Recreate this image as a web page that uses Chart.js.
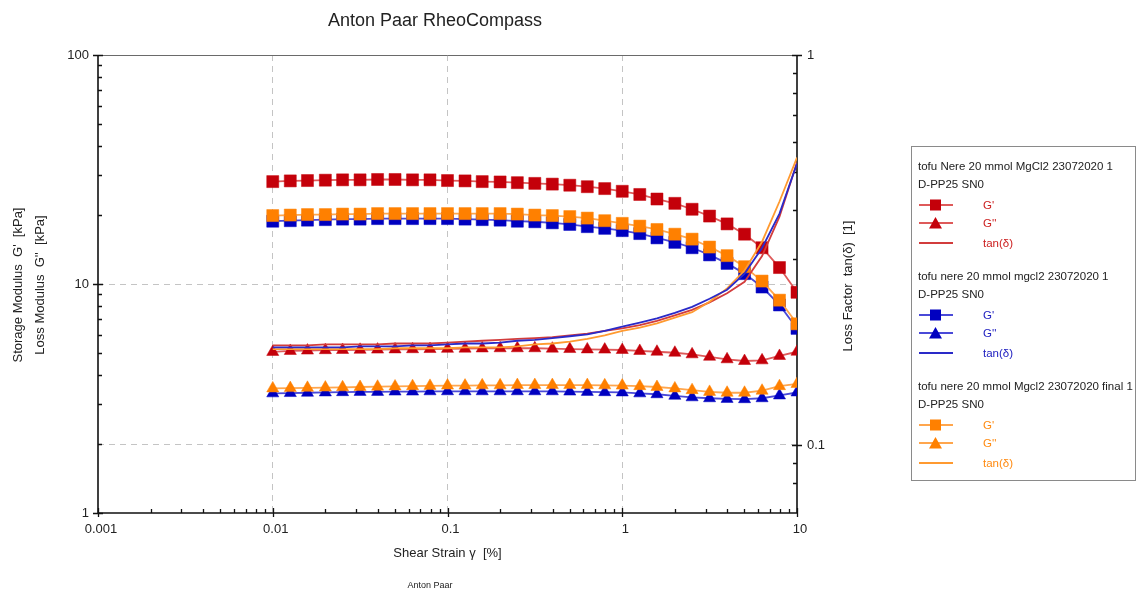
<!DOCTYPE html>
<html>
<head>
<meta charset="utf-8">
<script src="https://cdn.jsdelivr.net/npm/chart.js@4/dist/chart.umd.min.js"></script>
<style>
  body { margin: 0; background: #fff; font-family: "Liberation Sans", Arial, sans-serif; }
  #wrap { position: relative; width: 1140px; height: 592px; }
  #legend { position: absolute; left: 911px; top: 146px; width: 225px; height: 335px;
            border: 1px solid #8a8a8a; box-sizing: border-box; }
  .lg { position: absolute; font-size: 11.5px; line-height: 14px; white-space: nowrap; color: #222; }
</style>
</head>
<body>
<div id="wrap">
  <canvas id="chart" width="1140" height="592"></canvas>
  <div id="legend"></div>
</div>
<script>
// Данные
const strain = [0.01, 0.0126, 0.0158, 0.02, 0.0251, 0.0316, 0.0398, 0.0501, 0.0631, 0.0794,
                0.1, 0.126, 0.158, 0.2, 0.251, 0.316, 0.398, 0.501, 0.631, 0.794,
                1, 1.26, 1.58, 2, 2.51, 3.16, 3.98, 5.01, 6.31, 7.94, 10];

const redG1 = [28.0, 28.2, 28.3, 28.4, 28.5, 28.5, 28.6, 28.6, 28.5, 28.5, 28.3, 28.2, 28.0, 27.9, 27.7, 27.5,
               27.3, 27.0, 26.6, 26.1, 25.4, 24.6, 23.5, 22.5, 21.2, 19.8, 18.3, 16.5, 14.4, 11.8, 9.2];
const redG2 = [5.05, 5.10, 5.12, 5.14, 5.15, 5.16, 5.17, 5.18, 5.19, 5.20, 5.21, 5.22, 5.23, 5.24, 5.24, 5.24,
               5.22, 5.20, 5.18, 5.17, 5.15, 5.10, 5.06, 5.01, 4.93, 4.81, 4.69, 4.61, 4.64, 4.85, 5.06];
const redTan = [0.180, 0.180, 0.180, 0.181, 0.181, 0.181, 0.181, 0.182, 0.182, 0.182, 0.183, 0.184, 0.185, 0.186,
                0.187, 0.188, 0.189, 0.191, 0.193, 0.196, 0.199, 0.203, 0.208, 0.215, 0.222, 0.232, 0.245, 0.262,
                0.305, 0.385, 0.530];

const blueG1 = [18.8, 18.9, 19.0, 19.1, 19.2, 19.2, 19.3, 19.3, 19.3, 19.3, 19.3, 19.2, 19.1, 19.0, 18.8, 18.7,
                18.5, 18.2, 17.8, 17.5, 17.1, 16.6, 15.9, 15.2, 14.4, 13.4, 12.3, 11.1, 9.7, 8.1, 6.4];
const blueG2 = [3.33, 3.34, 3.35, 3.36, 3.37, 3.38, 3.38, 3.39, 3.39, 3.40, 3.40, 3.40, 3.40, 3.40, 3.40, 3.40,
                3.40, 3.39, 3.38, 3.37, 3.36, 3.33, 3.30, 3.25, 3.20, 3.17, 3.15, 3.14, 3.17, 3.26, 3.36];
const blueTan = [0.178, 0.178, 0.178, 0.178, 0.178, 0.179, 0.179, 0.179, 0.180, 0.180, 0.181, 0.182, 0.182, 0.183,
                 0.185, 0.186, 0.188, 0.190, 0.192, 0.196, 0.201, 0.206, 0.211, 0.218, 0.226, 0.237, 0.250, 0.275,
                 0.320, 0.392, 0.527];

const orangeG1 = [19.9, 20.0, 20.1, 20.1, 20.2, 20.2, 20.3, 20.3, 20.3, 20.3, 20.3, 20.3, 20.3, 20.3, 20.2, 20.0,
                  19.9, 19.7, 19.4, 18.9, 18.4, 17.9, 17.3, 16.5, 15.7, 14.5, 13.3, 11.9, 10.3, 8.5, 6.7];
const orangeG2 = [3.50, 3.51, 3.52, 3.53, 3.54, 3.55, 3.56, 3.57, 3.58, 3.59, 3.60, 3.60, 3.61, 3.61, 3.62, 3.62,
                  3.62, 3.62, 3.62, 3.61, 3.60, 3.58, 3.55, 3.50, 3.44, 3.38, 3.35, 3.35, 3.42, 3.58, 3.66];
const orangeTan = [0.176, 0.176, 0.176, 0.176, 0.176, 0.176, 0.176, 0.177, 0.177, 0.177, 0.177, 0.178, 0.178, 0.178,
                   0.179, 0.181, 0.182, 0.184, 0.187, 0.191, 0.196, 0.200, 0.205, 0.212, 0.219, 0.233, 0.252, 0.280,
                   0.332, 0.421, 0.546];

// Подписи
const xTickLabels = ['0.001', '0.01', '0.1', '1', '10'];
const yTickLabels = ['1', '10', '100'];
const y2TickLabels = ['0.1', '1'];
const xGridValues = [0.01, 0.1, 1];
const yGridValues = [10];
const y2GridValues = [0.1];

const sampleNames = ['tofu Nere 20 mmol MgCl2 23072020 1',
                     'tofu nere 20 mmol mgcl2 23072020 1',
                     'tofu nere 20 mmol Mgcl2 23072020 final  1'];
const sampleSub = 'D-PP25 SN0';
const seriesLabels = ["G'", "G''", 'tan(δ)'];

// Цвета: маркер, линия, tan
const colors = [
  { mark: '#c4000a', line: '#de5a5a', tan: '#d23c3c', text: '#cc2020' },
  { mark: '#0000c0', line: '#4a4ad8', tan: '#2a2ac8', text: '#2020c0' },
  { mark: '#ff8000', line: '#ffa64d', tan: '#ff9a30', text: '#ff8a10' }
];

const FONT = '"Liberation Sans", Arial, sans-serif';

function pts(arr) {
  return strain.map((x, i) => ({ x: x, y: arr[i] }));
}

function modDataset(arr, c, style, order) {
  return {
    data: pts(arr),
    yAxisID: 'y',
    borderColor: c.line,
    borderWidth: 1.8,
    pointStyle: style,
    pointRadius: style === 'rect' ? 8.5 : 7,
    pointBackgroundColor: c.mark,
    pointBorderColor: c.mark,
    pointBorderWidth: 0.5,
    tension: 0,
    order: order
  };
}

function tanDataset(arr, c, order) {
  return {
    data: pts(arr),
    yAxisID: 'y2',
    borderColor: c.tan,
    borderWidth: 1.8,
    pointRadius: 0,
    tension: 0,
    order: order
  };
}

const seriesG1 = [redG1, blueG1, orangeG1];
const seriesG2 = [redG2, blueG2, orangeG2];
const seriesTan = [redTan, blueTan, orangeTan];

const datasets = [
  modDataset(blueG2, colors[1], 'triangle', 9),
  modDataset(blueG1, colors[1], 'rect', 8),
  modDataset(orangeG2, colors[2], 'triangle', 7),
  modDataset(orangeG1, colors[2], 'rect', 6),
  modDataset(redG2, colors[0], 'triangle', 5),
  modDataset(redG1, colors[0], 'rect', 4),
  tanDataset(redTan, colors[0], 3),
  tanDataset(orangeTan, colors[2], 2),
  tanDataset(blueTan, colors[1], 1)
];

function near(v, list) {
  return list.some(g => Math.abs(v - g) / g < 1e-6);
}
function isNiceTick(v) {
  const e = Math.floor(Math.log10(v) + 1e-9);
  const m = v / Math.pow(10, e);
  return Math.abs(m - Math.round(m)) < 1e-6;
}
function isDecade(v) {
  const l = Math.log10(v);
  return Math.abs(l - Math.round(l)) < 1e-6;
}
function labelCb(list) {
  return function (v) {
    const s = String(Number(v.toPrecision(6)));
    return list.includes(s) ? s : '';
  };
}
function gridColor(list) {
  return c => (c.tick && near(c.tick.value, list)) ? '#c4c4c4' : 'rgba(0,0,0,0)';
}

// Оси, засечки и подписи
const decor = {
  id: 'decor',
  beforeDatasetsDraw(chart) {
    const { ctx, chartArea: a, scales } = chart;
    ctx.save();
    ctx.strokeStyle = '#6a6a6a';
    ctx.lineWidth = 1;
    ctx.beginPath();
    ctx.moveTo(a.left, a.top + 0.5);
    ctx.lineTo(a.right, a.top + 0.5);
    ctx.stroke();

    ctx.strokeStyle = '#111';
    ctx.lineWidth = 1.6;
    ctx.beginPath();
    ctx.moveTo(a.left, a.top);
    ctx.lineTo(a.left, a.bottom);
    ctx.lineTo(a.right, a.bottom);
    ctx.lineTo(a.right, a.top);
    ctx.stroke();

    ctx.lineWidth = 1.3;
    ctx.beginPath();
    scales.x.ticks.forEach(t => {
      if (!isNiceTick(t.value)) return;
      const p = Math.round(scales.x.getPixelForValue(t.value)) + 0.5;
      const major = isDecade(t.value);
      ctx.moveTo(p, a.bottom + (major ? 4 : 0));
      ctx.lineTo(p, a.bottom - (major ? 5 : 4));
    });
    scales.y.ticks.forEach(t => {
      if (!isNiceTick(t.value)) return;
      const p = Math.round(scales.y.getPixelForValue(t.value)) + 0.5;
      const major = isDecade(t.value);
      ctx.moveTo(a.left - (major ? 5 : 0), p);
      ctx.lineTo(a.left + (major ? 5 : 4), p);
    });
    scales.y2.ticks.forEach(t => {
      if (!isNiceTick(t.value)) return;
      const p = Math.round(scales.y2.getPixelForValue(t.value)) + 0.5;
      const major = isDecade(t.value);
      ctx.moveTo(a.right + (major ? 5 : 0), p);
      ctx.lineTo(a.right - (major ? 5 : 4), p);
    });
    ctx.stroke();
    ctx.restore();
  },
  afterDraw(chart) {
    const { ctx, chartArea: a } = chart;
    ctx.save();
    ctx.fillStyle = '#222';
    ctx.textAlign = 'center';
    ctx.textBaseline = 'middle';

    ctx.font = '18px ' + FONT;
    ctx.fillText('Anton Paar RheoCompass', 435, 21);

    ctx.font = '13px ' + FONT;
    ctx.fillText('Shear Strain γ  [%]', (a.left + a.right) / 2, 553);

    ctx.save();
    ctx.translate(18, 285);
    ctx.rotate(-Math.PI / 2);
    ctx.fillText("Storage Modulus  G'  [kPa]", 0, 0);
    ctx.restore();

    ctx.save();
    ctx.translate(40, 285);
    ctx.rotate(-Math.PI / 2);
    ctx.fillText("Loss Modulus  G''  [kPa]", 0, 0);
    ctx.restore();

    ctx.save();
    ctx.translate(848, 286);
    ctx.rotate(-Math.PI / 2);
    ctx.fillText('Loss Factor  tan(δ)  [1]', 0, 0);
    ctx.restore();

    ctx.font = '9px "Liberation Sans Narrow", ' + FONT;
    ctx.fillText('Anton Paar', 430, 586);
    ctx.restore();
  }
};

const tickFont = { family: FONT, size: 13 };

new Chart(document.getElementById('chart'), {
  type: 'line',
  data: { datasets: datasets },
  options: {
    responsive: false,
    animation: false,
    layout: { padding: { left: 0, top: 55, right: 283, bottom: 0 } },
    plugins: {
      legend: { display: false },
      title: { display: false },
      tooltip: { enabled: false }
    },
    scales: {
      x: {
        type: 'logarithmic',
        min: 0.001,
        max: 10,
        afterFit: s => { s.height = 79; },
        border: { display: false, dash: [6, 5] },
        grid: { color: gridColor(xGridValues), lineWidth: 1, drawTicks: false },
        ticks: { callback: labelCb(xTickLabels), autoSkip: false, maxRotation: 0, padding: 9,
                 labelOffset: 3, color: '#222', font: tickFont }
      },
      y: {
        type: 'logarithmic',
        position: 'left',
        min: 1,
        max: 100,
        afterFit: s => { s.width = 98; },
        border: { display: false, dash: [6, 5] },
        grid: { color: gridColor(yGridValues), lineWidth: 1, drawTicks: false },
        ticks: { callback: labelCb(yTickLabels), autoSkip: false, padding: 9, color: '#222', font: tickFont }
      },
      y2: {
        type: 'logarithmic',
        position: 'right',
        min: 0.0669,
        max: 1,
        afterFit: s => { s.width = 60; },
        border: { display: false, dash: [6, 5] },
        grid: { color: gridColor(y2GridValues), lineWidth: 1, drawTicks: false },
        ticks: { callback: labelCb(y2TickLabels), autoSkip: false, padding: 10, color: '#222', font: tickFont }
      }
    }
  },
  plugins: [decor]
});

// Легенда справа
function symbolSvg(c, kind) {
  let s = '<svg width="36" height="14" style="position:absolute;left:0;top:0">';
  s += '<line x1="1" y1="7" x2="35" y2="7" stroke="' + (kind === 2 ? c.tan : c.line) + '" stroke-width="2"/>';
  if (kind === 0) s += '<rect x="12" y="1.5" width="11" height="11" fill="' + c.mark + '"/>';
  if (kind === 1) s += '<polygon points="17.5,1 24,12.5 11,12.5" fill="' + c.mark + '"/>';
  return s + '</svg>';
}

const legend = document.getElementById('legend');
let html = '';
sampleNames.forEach((name, g) => {
  const top = 165 + 110 * g - 146 - 7;
  html += '<div class="lg" style="left:6px;top:' + top + 'px">' + name + '</div>';
  html += '<div class="lg" style="left:6px;top:' + (top + 18) + 'px">' + sampleSub + '</div>';
  [39, 57, 77].forEach((dy, k) => {
    html += '<div class="lg" style="left:6px;top:' + (top + dy) + 'px;width:36px;height:14px">' +
            symbolSvg(colors[g], k) + '</div>';
    html += '<div class="lg" style="left:71px;top:' + (top + dy) + 'px;color:' + colors[g].text + '">' +
            seriesLabels[k] + '</div>';
  });
});
legend.innerHTML = html;
</script>
</body>
</html>
